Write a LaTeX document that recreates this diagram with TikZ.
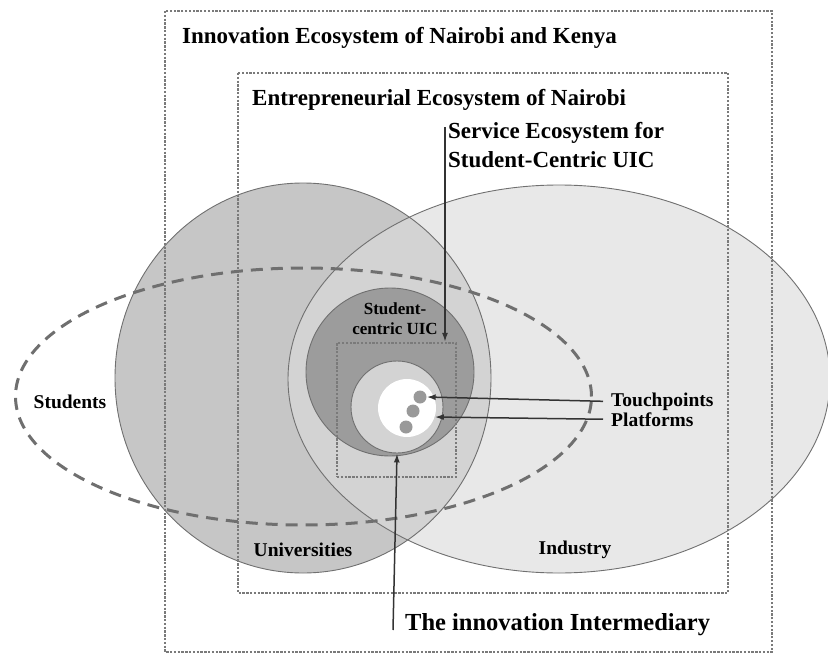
\documentclass[tikz,border=0pt]{standalone}
\usepackage{fontspec}
\setmainfont{Liberation Serif}
\usetikzlibrary{arrows.meta}
\definecolor{indfill}{HTML}{E8E8E8}
\definecolor{unifill}{HTML}{C6C6C6}
\definecolor{lapfill}{HTML}{D3D3D3}
\definecolor{uicfill}{HTML}{9C9C9C}
\definecolor{dotfill}{HTML}{999999}
\definecolor{edgegray}{HTML}{707070}
\definecolor{dotgray}{HTML}{7A7A7A}
\definecolor{dashgray}{HTML}{6F6F6F}
\definecolor{arrowgray}{HTML}{333333}

\begin{document}
\begin{tikzpicture}[x=1pt,y=-1pt,
  zone/.style={draw=edgegray, line width=0.9pt},
  dotbox/.style={draw=dotgray, line width=2.3pt, dash pattern=on 2.3pt off 1.5pt},
  studline/.style={draw=dashgray, line width=3pt, dash pattern=on 12pt off 8pt},
  title/.style={font=\fontsize{23}{29}\selectfont\bfseries, inner sep=0pt},
  label/.style={font=\fontsize{19.5}{20}\selectfont\bfseries, inner sep=0pt},
  pointer/.style={draw=arrowgray, line width=1.5pt, -{Latex[length=9pt,width=6pt]}}]
\useasboundingbox (0,0) rectangle (828,653);
\fill[indfill] (559,379) ellipse [x radius=271pt, y radius=194pt];
\fill[unifill] (303,378) ellipse [x radius=188pt, y radius=195pt];
\begin{scope}
\clip (303,378) ellipse [x radius=188pt, y radius=195pt];
\fill[lapfill] (559,379) ellipse [x radius=271pt, y radius=194pt];
\end{scope}
\draw[zone] (559,379) ellipse [x radius=271pt, y radius=194pt];
\draw[zone] (303,378) ellipse [x radius=188pt, y radius=195pt];
\node[circle, zone, fill=uicfill, minimum size=168pt, inner sep=0pt] (uic) at (390,372) {};
\node[circle, zone, fill=lapfill, minimum size=92pt, inner sep=0pt] (ic) at (397,407) {};
\node[circle, fill=white, minimum size=58pt, inner sep=0pt] (wc) at (407,408) {};
\foreach \x/\y [count=\i] in {420/397,413/411,406/427}
  \node[circle, fill=dotfill, minimum size=13pt, inner sep=0pt] (d\i) at (\x,\y) {};
\draw[dotbox] (165,11) rectangle (772,652);
\draw[dotbox] (238,73) rectangle (728,593);
\node[dotbox, minimum width=119pt, minimum height=134pt, inner sep=0pt] (sr) at (396.5,410) {};
\draw[studline] (303.5,396.5) ellipse [x radius=288pt, y radius=128.5pt];
\node[title, anchor=base west] (eco) at (182,43) {Innovation Ecosystem of Nairobi and Kenya};
\node[title, anchor=base west] (ent) at (252,105) {Entrepreneurial Ecosystem of Nairobi};
\node[title, anchor=north west, align=left, inner sep=3pt] (svc) at (445,119) {Service Ecosystem for\\Student-Centric UIC};
\node[label] (stu) at (70,402) {Students};
\node[label] (uni) at (303,550) {Universities};
\node[label] (ind) at (575,550) {Industry};
\node[label, anchor=base west, inner xsep=8pt] (tp) at (603,406) {Touchpoints};
\node[label, anchor=base west, inner xsep=8pt] (pf) at (603,426) {Platforms};
\node[font=\fontsize{17}{20}\selectfont\bfseries, align=center, inner sep=0pt] (sc) at (395,319) {Student-\\centric UIC};
\node[title, font=\fontsize{24.5}{29}\selectfont\bfseries, anchor=base west] (im) at (405,630) {The innovation Intermediary};
\coordinate (imfoot) at (393,630);
\draw[pointer] ([yshift=-8pt]svc.north west) -- (svc.north west |- sr.north);
\draw[pointer] (tp.west) -- (d1.east);
\draw[pointer] (pf.west) -- (wc.-18);
\draw[pointer] (imfoot) -- (ic.south);
\end{tikzpicture}
\end{document}
